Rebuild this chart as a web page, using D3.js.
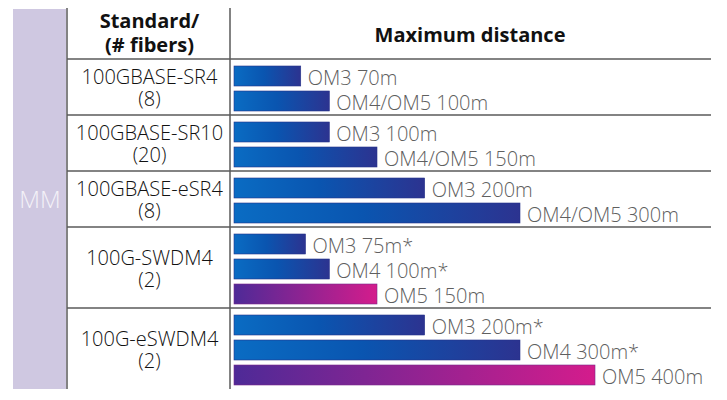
<!DOCTYPE html>
<html>
<head>
<meta charset="utf-8">
<script src="https://cdn.jsdelivr.net/npm/d3@7"></script>
<style>
  html, body { margin: 0; padding: 0; background: #fff; }
  svg { display: block; }
  text { font-family: "Open Sans", "Noto Sans", sans-serif; }
</style>
</head>
<body>
<svg id="chart" width="727" height="400"></svg>
<script>
// ---- data ----
const groupLabel = "MM";
const headers = ["Standard/", "(# fibers)", "Maximum distance"];
const standards = ["100GBASE-SR4", "100GBASE-SR10", "100GBASE-eSR4", "100G-SWDM4", "100G-eSWDM4"];
const fibers = ["(8)", "(20)", "(8)", "(2)", "(2)"];
const barLabels = [
  ["OM3 70m", "OM4/OM5 100m"],
  ["OM3 100m", "OM4/OM5 150m"],
  ["OM3 200m", "OM4/OM5 300m"],
  ["OM3 75m*", "OM4 100m*", "OM5 150m"],
  ["OM3 200m*", "OM4 300m*", "OM5 400m"]
];
const distances = [
  [70, 100],
  [100, 150],
  [200, 300],
  [75, 100, 150],
  [200, 300, 400]
];
const fiberType = [
  ["mm", "mm"],
  ["mm", "mm"],
  ["mm", "mm"],
  ["mm", "mm", "om5"],
  ["mm", "mm", "om5"]
];

// ---- layout ----
const svg = d3.select("#chart");
const xLeftCol = 13, xV1 = 67, xV2 = 230, xRight = 711;
const yTop = 8, yHeader = 59;
const barStart = 234, barH = 20, barStep = 25, rowPad = 7;

const rowHeights = distances.map(d => 6 + d.length * barStep);
const rowTops = [];
let acc = yHeader;
rowHeights.forEach(h => { rowTops.push(acc); acc += h; });
const yBottom = acc;

// distance scale (as drawn in the picture)
const x = d3.scaleLinear().domain([0, 300, 400]).range([0, 286, 361]);

// gradients
const defs = svg.append("defs");
const gBlue = defs.append("linearGradient").attr("id", "gBlue").attr("x1", "0").attr("x2", "1").attr("y1", "0").attr("y2", "0");
gBlue.append("stop").attr("offset", "0%").attr("stop-color", "#0a6cc3");
gBlue.append("stop").attr("offset", "45%").attr("stop-color", "#0a55b0");
gBlue.append("stop").attr("offset", "100%").attr("stop-color", "#2c3390");
const gMag = defs.append("linearGradient").attr("id", "gMag").attr("x1", "0").attr("x2", "1").attr("y1", "0").attr("y2", "0");
gMag.append("stop").attr("offset", "0%").attr("stop-color", "#4e2a97");
gMag.append("stop").attr("offset", "100%").attr("stop-color", "#d41c8c");

// left purple column
svg.append("rect").attr("x", xLeftCol).attr("y", yTop + 1).attr("width", xV1 - xLeftCol - 1)
  .attr("height", yBottom - yTop - 1).attr("fill", "#cfc8e1");
svg.append("text").attr("x", (xLeftCol + xV1) / 2).attr("y", (yTop + yBottom) / 2 + 9)
  .attr("text-anchor", "middle").attr("font-size", 24).attr("font-weight", 300)
  .attr("fill", "#f4f2f8").text(groupLabel);

// grid lines
const lineColor = "#5a5a5a";
svg.append("line").attr("x1", xV1).attr("x2", xV1).attr("y1", yTop).attr("y2", yBottom)
  .attr("stroke", lineColor).attr("stroke-width", 1.5);
svg.append("line").attr("x1", xV2).attr("x2", xV2).attr("y1", yTop).attr("y2", yBottom)
  .attr("stroke", lineColor).attr("stroke-width", 1.5);
const hLines = [yHeader].concat(rowTops.slice(1));
svg.selectAll("line.h").data(hLines).join("line").attr("class", "h")
  .attr("x1", xV1).attr("x2", xRight).attr("y1", d => d).attr("y2", d => d)
  .attr("stroke", lineColor).attr("stroke-width", 1.5);

// headers
const colMid = (xV1 + xV2) / 2 + 1;
svg.append("text").attr("x", colMid).attr("y", 28).attr("text-anchor", "middle")
  .attr("font-size", 20).attr("font-weight", 700).attr("fill", "#111").text(headers[0]);
svg.append("text").attr("x", colMid).attr("y", 52).attr("text-anchor", "middle")
  .attr("font-size", 20).attr("font-weight", 700).attr("fill", "#111").text(headers[1]);
svg.append("text").attr("x", 470).attr("y", 42).attr("text-anchor", "middle")
  .attr("font-size", 20).attr("font-weight", 700).attr("fill", "#111").text(headers[2]);

// rows
standards.forEach((s, i) => {
  const top = rowTops[i], h = rowHeights[i], c = top + h / 2;
  svg.append("text").attr("x", colMid).attr("y", c - 3).attr("text-anchor", "middle")
    .attr("font-size", 20).attr("font-weight", 300).attr("fill", "#111").text(s);
  svg.append("text").attr("x", colMid).attr("y", c + 19).attr("text-anchor", "middle")
    .attr("font-size", 20).attr("font-weight", 300).attr("fill", "#111").text(fibers[i]);

  const g = svg.append("g");
  const bars = distances[i].map((d, j) => ({ d, label: barLabels[i][j], type: fiberType[i][j], j }));
  g.selectAll("rect").data(bars).join("rect")
    .attr("x", barStart)
    .attr("y", b => top + rowPad + b.j * barStep)
    .attr("width", b => x(b.d))
    .attr("height", barH)
    .attr("fill", b => b.type === "om5" ? "url(#gMag)" : "url(#gBlue)")
    .attr("stroke", b => b.type === "om5" ? "#7a2a8a" : "#27338a")
    .attr("stroke-width", 0.6);
  g.selectAll("text").data(bars).join("text")
    .attr("x", b => barStart + x(b.d) + 7)
    .attr("y", b => top + rowPad + b.j * barStep + 19)
    .attr("font-size", 20).attr("font-weight", 300).attr("fill", "#5f5f5f")
    .text(b => b.label);
});
</script>
</body>
</html>
